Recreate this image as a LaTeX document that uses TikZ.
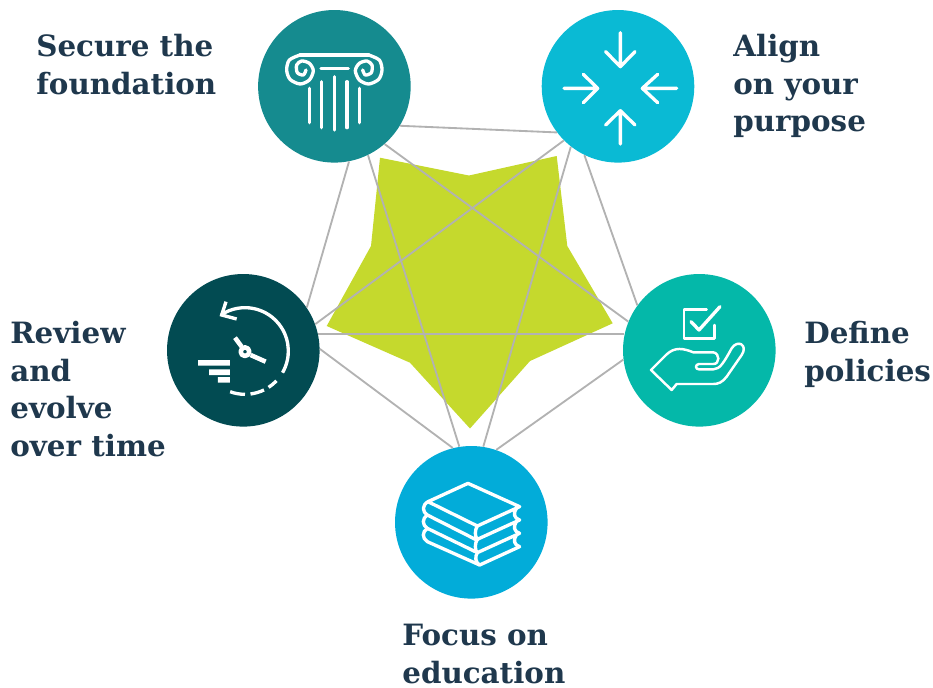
\documentclass[tikz,border=0pt]{standalone}
\usepackage{fontspec}
\newfontfamily\labelfont{DejaVu Serif}[BoldFont={DejaVu Serif Bold}]
\definecolor{tealdeep}{HTML}{158B8F}
\definecolor{cyanlight}{HTML}{0ABAD4}
\definecolor{greenteal}{HTML}{04B8A9}
\definecolor{petrol}{HTML}{024B52}
\definecolor{skyblue}{HTML}{02ACD9}
\definecolor{lime}{HTML}{C5D92D}
\definecolor{spokegray}{HTML}{B2B2B2}
\definecolor{inkblue}{HTML}{1F384D}
\tikzset{
	hub/.style={shape=circle,inner sep=0pt,minimum size=3.052cm},
	spoke/.style={draw=spokegray,line width=1.05pt},
	caption/.style={anchor=north west,inner sep=0pt,align=left,text=inkblue,font=\labelfont\bfseries\fontsize{16.7}{21.4}\selectfont},
	icon/.style={draw=white,line width=1.9pt,line cap=round,line join=round},
	thinicon/.style={draw=white,line width=1.4pt,line cap=round,line join=round},
	zoomed/.style={x=0.02cm/3,y=-0.02cm/3}
}

\begin{document}
\begin{tikzpicture}[x=0.02cm,y=-0.02cm]
	
	\useasboundingbox (0,0) rectangle (933,687);
	
	\fill[lime] (380,157.7) -- (469,175.5) -- (556.7,156) -- (567.3,246) -- (612.7,323.3) -- (530,361) -- (470,428.5) -- (410,362.7) -- (326.7,326) -- (371,246) -- cycle;
	
	\node[hub,fill=tealdeep] (secure) at (334.4, 86.3) {};
	\node[hub,fill=cyanlight] (align) at (618, 86.3) {};
	\node[hub,fill=greenteal] (define) at (699.3, 350.3) {};
	\node[hub,fill=petrol] (review) at (243.3, 350.3) {};
	\node[hub,fill=skyblue] (focus) at (471.3, 522.3) {};
	
	\path[spoke] (secure.-31.8) edge (align.-143.8);
	\path[spoke] (secure.-49.2) edge (define.158.5);
	\path[spoke] (secure.-64.6) edge (focus.99.2);
	\path[spoke] (secure.-79) edge (review.34.3);
	\path[spoke] (align.-135.5) edge (review.20.4);
	\path[spoke] (align.-128.5) edge (focus.81);
	\path[spoke] (align.-116.8) edge (define.144.1);
	\path[spoke] (review.12.6) edge (define.168);
	\path[spoke] (review.1.5) edge (focus.104.7);
	\path[spoke] (define.187.3) edge (focus.71.3);
	
	\node[caption] (securetext) at (36, 34) {Secure the\\foundation};
	\node[caption] (aligntext) at (733, 34) {Align\\on your\\purpose};
	\node[caption] (definetext) at (804, 321) {Define\\policies};
	\node[caption] (reviewtext) at (10, 321) {Review\\and\\evolve\\over time};
	\node[caption] (focustext) at (402, 624) {Focus on\\education};
	
	% column
	\begin{scope}[shift={(250,0)},zoomed]
		\draw[icon] (150,165) -- (356,165);
		\draw[icon] (213,205) -- (295,205);
		\foreach \x/\a/\b in {178/265/368,215/245/383,253/230/390,291/245/383,328/265/368}
			\draw[icon] (\x,\a) -- (\x,\b);
		\draw[icon] plot[smooth] coordinates {(150,165) (118,180) (110,210) (120,238) (150,252) (178,240) (190,212) (178,190) (155,183) (140,195) (142,218) (160,225) (168,210)};
		\draw[icon] plot[smooth] coordinates {(356,165) (388,180) (396,210) (386,238) (356,252) (328,240) (316,212) (328,190) (351,183) (366,195) (364,218) (346,225) (338,210)};
	\end{scope}
	
	% arrows
	\begin{scope}[shift={(535,5)},zoomed]
		\draw[icon] (256,83) -- (256,185) (212,140) -- (256,185) -- (300,140);
		\draw[icon] (256,417) -- (256,317) (212,360) -- (256,317) -- (300,360);
		\draw[icon] (87,250) -- (188,250) (145,208) -- (188,250) -- (145,293);
		\draw[icon] (425,250) -- (322,250) (368,208) -- (322,250) -- (368,293);
	\end{scope}
	
	% hand
	\begin{scope}[shift={(615,265)},zoomed]
		\draw[thinicon] (275,133) -- (207,133) -- (207,220) -- (298,220) -- (298,180);
		\draw[icon] (228,170) -- (252,195) -- (315,125);
		\draw[thinicon] (108,315) -- (155,268) .. controls (180,245) and (205,250) .. (235,262) -- (295,262) .. controls (315,265) and (315,297) .. (295,297) -- (252,297) .. controls (240,298) and (240,313) .. (252,313) -- (295,313) .. controls (315,312) and (325,295) .. (350,250) .. controls (368,222) and (400,240) .. (380,270) -- (335,335) .. controls (322,352) and (310,357) .. (295,357) -- (185,357) -- (170,375) -- cycle;
	\end{scope}
	
	% clock
	\begin{scope}[shift={(160,265)},zoomed]
		\draw[icon,line cap=butt] ([shift={(-123:130)}]255,258) arc[start angle=-123,end angle=30,radius=130];
		\foreach \a/\b in {43.5/57,64/82.7,90/110}
			\draw[icon,line cap=butt] ([shift={(\a:130)}]255,258) arc[start angle=\a,end angle=\b,radius=130];
		\draw[icon,line cap=butt,line join=miter] (198,110) -- (185,150) -- (230,162);
		\draw[icon,line cap=butt,line width=2.6pt] (225,218) -- (245,245) (272,270) -- (317,290);
		\draw[icon,line width=2.6pt] (255,260) circle[radius=13];
		\fill[white] (114,285) rectangle (210,302) (147,313) rectangle (210,330) (174,336) rectangle (210,353);
	\end{scope}
	
	% books
	\begin{scope}[shift={(388,440)},zoomed]
		\draw[icon] (240,130) -- (395,200) -- (268,258) -- (120,185) -- cycle;
		\draw[icon] (120,185) .. controls (102,195) and (102,215) .. (118,225) -- (262,298);
		\draw[icon] (118,225) .. controls (102,235) and (102,255) .. (118,265) -- (262,335);
		\draw[icon] (118,265) .. controls (102,275) and (102,295) .. (118,305) -- (275,375);
		\draw[icon] (268,258) .. controls (260,270) and (260,290) .. (268,298) -- (395,240);
		\draw[icon] (268,298) .. controls (260,310) and (260,330) .. (268,338) -- (395,280);
		\draw[icon] (268,338) .. controls (260,350) and (262,368) .. (275,375) -- (395,320);
		\draw[icon] (385,205) .. controls (375,220) and (378,235) .. (395,240);
		\draw[icon] (385,245) .. controls (375,260) and (378,275) .. (395,280);
		\draw[icon] (385,285) .. controls (375,300) and (378,315) .. (395,320);
	\end{scope}
	
\end{tikzpicture}
\end{document}
